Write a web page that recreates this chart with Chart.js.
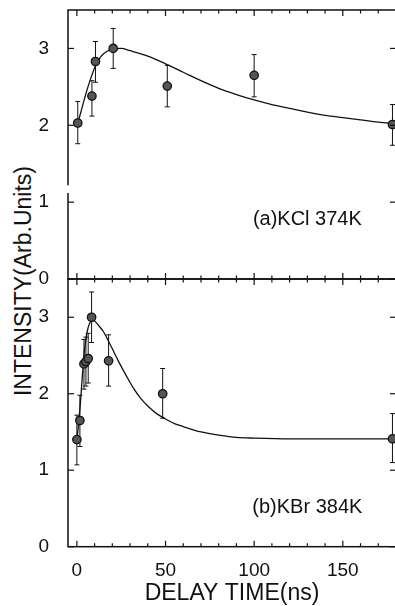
<!DOCTYPE html>
<html>
<head>
<meta charset="utf-8">
<script src="https://cdn.jsdelivr.net/npm/chart.js@4"></script>
<style>
  body { margin: 0; width: 395px; height: 606px; overflow: hidden; background: #fff; position: relative; }
  canvas { position: absolute; left: 0; }
  #ytitle {
    position: absolute; left: 23px; top: 281px;
    transform: translate(-50%, -50%) rotate(-90deg);
    font: 23px "Liberation Sans", Arial, sans-serif; color: #111; white-space: nowrap;
  }
</style>
</head>
<body>
<div id="ytitle">INTENSITY(Arb.Units)</div>
<canvas id="chartA" width="400" height="319" style="top:-15px"></canvas>
<canvas id="chartB" width="400" height="352" style="top:254px"></canvas>
<script>
// (a) KCl 374K
const timeA = [0.5, 8.5, 10.5, 20.5, 51, 100, 178];
const intensityA = [2.03, 2.38, 2.83, 3.00, 2.51, 2.65, 2.01];
const errLowA = [1.76, 2.12, 2.56, 2.74, 2.24, 2.37, 1.74];
const errHighA = [2.31, 2.58, 3.09, 3.26, 2.78, 2.92, 2.27];
const curveTimeA = [0, 2, 4, 6, 8, 10, 12, 15, 20, 25, 30, 40, 50, 60, 70, 80, 90, 100, 110, 120, 130, 140, 150, 160, 170, 180];
const curveIntensityA = [1.98, 2.15, 2.32, 2.48, 2.62, 2.75, 2.84, 2.93, 2.99, 3.00, 2.97, 2.90, 2.80, 2.69, 2.58, 2.48, 2.40, 2.33, 2.27, 2.22, 2.17, 2.13, 2.10, 2.07, 2.04, 2.02];

// (b) KBr 384K
const timeB = [0, 1.7, 4, 5.1, 6.4, 8.3, 17.9, 48.4, 178];
const intensityB = [1.40, 1.65, 2.39, 2.42, 2.46, 3.00, 2.43, 2.00, 1.41];
const errLowB = [1.07, 1.31, 2.06, 2.10, 2.14, 2.67, 2.10, 1.68, 1.10];
const errHighB = [1.72, 1.98, 2.71, 2.74, 2.79, 3.33, 2.77, 2.33, 1.74];
const curveTimeB = [0, 1, 2, 3, 4, 5, 6, 7, 8, 9, 10, 12, 15, 18, 21, 24, 28, 32, 36, 40, 45, 50, 55, 60, 70, 80, 90, 100, 120, 140, 160, 180];
const curveIntensityB = [1.38, 1.62, 1.88, 2.20, 2.50, 2.70, 2.83, 2.91, 2.95, 2.96, 2.95, 2.90, 2.81, 2.68, 2.54, 2.40, 2.23, 2.07, 1.94, 1.84, 1.74, 1.67, 1.61, 1.57, 1.50, 1.46, 1.43, 1.42, 1.41, 1.41, 1.41, 1.41];

const xMajorTicks = [0, 50, 100, 150];
const xMinorTicks = [10, 20, 30, 40, 60, 70, 80, 90, 110, 120, 130, 140, 160, 170];
const yTicks = [0, 1, 2, 3];
const panelLabels = ["(a)KCl 374K", "(b)KBr 384K"];

const FONT = "'Liberation Sans', Arial, sans-serif";
const INK = "#111";

function pts(xs, ys) {
  return xs.map((x, i) => ({ x: x, y: ys[i] }));
}

function line(ctx, x1, y1, x2, y2) {
  ctx.beginPath();
  ctx.moveTo(x1, y1);
  ctx.lineTo(x2, y2);
  ctx.stroke();
}

// error bars go under the points
const errorBars = {
  id: "errorBars",
  beforeDatasetsDraw(chart) {
    const { ctx, scales: { x, y } } = chart;
    ctx.save();
    ctx.strokeStyle = INK;
    ctx.lineWidth = 1;
    chart.data.datasets.forEach((ds) => {
      if (!ds.errLow) return;
      ds.data.forEach((p, i) => {
        const px = x.getPixelForValue(p.x);
        const lo = y.getPixelForValue(ds.errLow[i]);
        const hi = y.getPixelForValue(ds.errHigh[i]);
        line(ctx, px, lo, px, hi);
        line(ctx, px - 2.5, lo, px + 2.5, lo);
        line(ctx, px - 2.5, hi, px + 2.5, hi);
      });
    });
    ctx.restore();
  }
};

// frame with inward ticks on all four sides, axis break, panel label
const frame = {
  id: "frame",
  afterDraw(chart, args, opts) {
    const { ctx, chartArea: { left, right, top, bottom }, scales: { x, y } } = chart;
    ctx.save();
    ctx.strokeStyle = INK;
    ctx.lineWidth = 1.5;
    ctx.strokeRect(left, top, right - left, bottom - top);
    ctx.lineWidth = 1.2;
    xMajorTicks.forEach((v) => {
      const px = x.getPixelForValue(v);
      line(ctx, px, bottom, px, bottom - 6);
      line(ctx, px, top, px, top + 6);
    });
    xMinorTicks.forEach((v) => {
      const px = x.getPixelForValue(v);
      line(ctx, px, bottom, px, bottom - 3.5);
      line(ctx, px, top, px, top + 3.5);
    });
    yTicks.forEach((v) => {
      const py = y.getPixelForValue(v);
      line(ctx, left, py, left + 6, py);
      line(ctx, right, py, right - 6, py);
    });
    if (opts.breakFrom !== undefined) {
      const y1 = y.getPixelForValue(opts.breakTo);
      const y2 = y.getPixelForValue(opts.breakFrom);
      ctx.fillStyle = "#fff";
      ctx.fillRect(left - 3, y1, 6, y2 - y1);
    }
    ctx.fillStyle = INK;
    ctx.font = "20px " + FONT;
    ctx.textAlign = "center";
    ctx.textBaseline = "middle";
    ctx.fillText(opts.label, x.getPixelForValue(opts.labelX), y.getPixelForValue(opts.labelY));
    ctx.restore();
  }
};

function makeChart(id, time, intensity, errLow, errHigh, curveTime, curveIntensity, padding, showX, frameOpts) {
  return new Chart(document.getElementById(id), {
    data: {
      datasets: [
        {
          type: "scatter",
          data: pts(time, intensity),
          errLow: errLow,
          errHigh: errHigh,
          pointRadius: 4.2,
          pointBackgroundColor: "#555",
          pointBorderColor: INK,
          pointBorderWidth: 1.3,
          clip: false,
          order: 1
        },
        {
          type: "line",
          data: pts(curveTime, curveIntensity),
          borderColor: INK,
          borderWidth: 1.3,
          pointRadius: 0,
          cubicInterpolationMode: "monotone",
          fill: false,
          order: 2
        }
      ]
    },
    options: {
      responsive: false,
      animation: false,
      layout: { padding: padding, autoPadding: false },
      plugins: { legend: { display: false }, tooltip: { enabled: false }, frame: frameOpts },
      scales: {
        x: {
          type: "linear",
          display: showX,
          min: -5,
          max: 180,
          grid: { display: false },
          border: { display: false },
          afterBuildTicks: (s) => { s.ticks = xMajorTicks.map((v) => ({ value: v })); },
          afterFit: (s) => { if (showX) s.height = 59.3; },
          ticks: { color: INK, padding: 5, font: { family: FONT, size: 19 } },
          title: {
            display: true,
            text: "DELAY TIME(ns)",
            color: INK,
            padding: { top: 0, bottom: -1 },
            font: { family: FONT, size: 23 }
          }
        },
        y: {
          type: "linear",
          min: 0,
          max: 3.5,
          grid: { display: false },
          border: { display: false },
          afterBuildTicks: (s) => { s.ticks = yTicks.map((v) => ({ value: v })); },
          afterFit: (s) => { s.width = 68; },
          ticks: { color: INK, padding: 11, font: { family: FONT, size: 19 } }
        }
      }
    },
    plugins: [errorBars, frame]
  });
}

makeChart("chartA", timeA, intensityA, errLowA, errHighA, curveTimeA, curveIntensityA,
  { top: 25, bottom: 25, left: 0, right: 4 }, false,
  { label: panelLabels[0], labelX: 130, labelY: 0.78, breakFrom: 1.12, breakTo: 1.22 });

makeChart("chartB", timeB, intensityB, errLowB, errHighB, curveTimeB, curveIntensityB,
  { top: 25, bottom: 0, left: 0, right: 4 }, true,
  { label: panelLabels[1], labelX: 130, labelY: 0.51 });
</script>
</body>
</html>
